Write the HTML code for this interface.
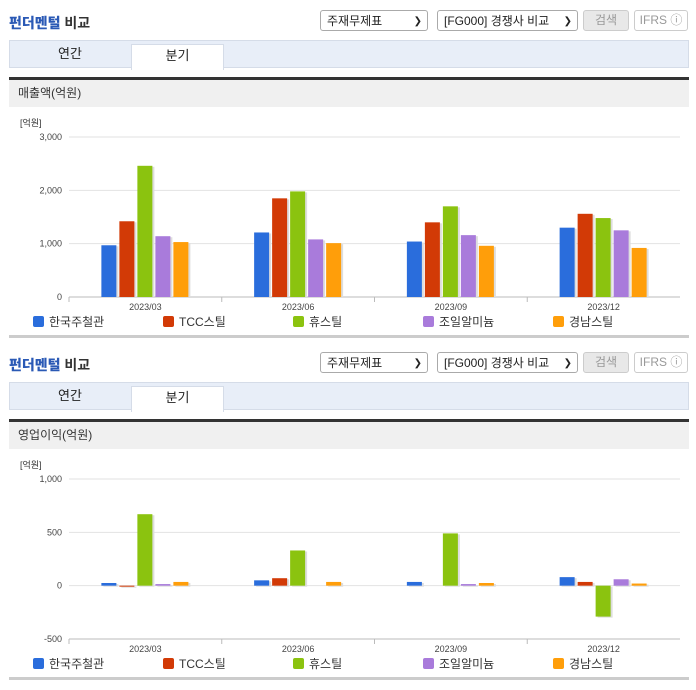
<!DOCTYPE html>
<html><head><meta charset="utf-8">
<style>
body{margin:0;width:696px;height:684px;background:#fff;font-family:"Liberation Sans","Noto Sans CJK KR",sans-serif;position:relative;overflow:hidden}
.abs{position:absolute}
.title{font-size:14px;font-weight:bold;color:#333}
.title b{color:#2a59b5}
.sel{border:1px solid #aaa;border-radius:3px;height:21px;font-size:12px;line-height:21px;padding-left:6px;box-sizing:border-box;color:#222;background:#fff}
.sel i{position:absolute;right:5px;top:0;font-style:normal;font-size:10px}
.btn{border:1px solid #ccc;border-radius:3px;height:21px;box-sizing:border-box;font-size:12px;line-height:19px;text-align:center;color:#999}
.tabs{left:9px;width:680px;height:28px;background:#e8eef8;border:1px solid #d5dce8;box-sizing:border-box}
.tab{font-size:13px;line-height:26px;text-align:center;color:#222}
.hdr{left:9px;width:680px;height:30px;background:#f0f0f0;border-top:3px solid #333;box-sizing:border-box;font-size:12px;line-height:27px;padding-left:9px;color:#333}
.bot{left:9px;width:680px;height:3px;background:#ccc}
svg text{font-family:"Liberation Sans","Noto Sans CJK KR",sans-serif}
</style></head><body>
<div id="root"></div>
<script>
const categories=["2023/03","2023/06","2023/09","2023/12"];
const seriesNames=["한국주철관","TCC스틸","휴스틸","조일알미늄","경남스틸"];
const colors=["#2a6ddc","#d23a06","#8bc30f","#a97bdb","#ff9e0a"];
const salesValues=[[970,1210,1040,1300],[1420,1850,1400,1560],[2460,1980,1700,1480],[1140,1080,1160,1250],[1030,1010,960,920]];
const salesTicks=[0,1000,2000,3000];
const opValues=[[25,50,35,80],[-8,70,0,35],[670,330,490,-290],[15,0,15,60],[35,35,25,20]];
const opTicks=[-500,0,500,1000];

const root=document.getElementById('root');
function block(off,label,vals,ticks,topY,botY){
  let h='';
  h+=`<div class="abs title" style="left:9px;top:${off+13}px"><b>펀더멘털</b> 비교</div>`;
  h+=`<div class="abs sel" style="left:320px;top:${off+10}px;width:108px">주재무제표<i>❯</i></div>`;
  h+=`<div class="abs sel" style="left:437px;top:${off+10}px;width:141px">[FG000] 경쟁사 비교<i>❯</i></div>`;
  h+=`<div class="abs btn" style="left:583px;top:${off+10}px;width:46px;background:#e8e8e8">검색</div>`;
  h+=`<div class="abs btn" style="left:634px;top:${off+10}px;width:54px">IFRS ⓘ</div>`;
  h+=`<div class="abs tabs" style="top:${off+40}px"></div>`;
  h+=`<div class="abs tab" style="left:10px;top:${off+41}px;width:120px">연간</div>`;
  h+=`<div class="abs tab" style="left:131px;top:${off+44}px;width:91px;height:25px;background:#fff;border:1px solid #d5dce8;border-bottom:none;line-height:22px">분기</div>`;
  h+=`<div class="abs hdr" style="top:${off+77}px">${label}</div>`;
  h+=`<div class="abs bot" style="top:${off+335}px"></div>`;
  const div=document.createElement('div');div.innerHTML=h;root.appendChild(div);
  const NS='http://www.w3.org/2000/svg';
  const svg=document.createElementNS(NS,'svg');
  svg.setAttribute('width',696);svg.setAttribute('height',240);
  svg.style.position='absolute';svg.style.left='0';svg.style.top=(off+108)+'px';
  
  
  root.appendChild(svg);
  const x0=69,x1=680,tmin=ticks[0],tmax=ticks[ticks.length-1];
  const y=v=>topY+(tmax-v)/(tmax-tmin)*(botY-topY);
  const cw=(x1-x0)/categories.length;
  function el(tag,attrs,txt){const e=document.createElementNS(NS,tag);for(const k in attrs)e.setAttribute(k,attrs[k]);if(txt!==undefined)e.textContent=txt;svg.appendChild(e);return e;}
  const u=el('text',{x:20,y:18,'font-size':9,fill:'#333'},'[억원]');
  
  
  ticks.forEach(t=>{
    const g=el('line',{x1:x0,x2:x1,y1:y(t),y2:y(t),stroke:'#e2e2e2'});
    
    
    const tl=el('text',{x:62,y:y(t)+3,'font-size':9,fill:'#444','text-anchor':'end'},t.toLocaleString('en-US'));
    
    
  });
  const axY=y(tmin);
  const ax=el('line',{x1:x0,x2:x1,y1:axY,y2:axY,stroke:'#bbb'});
  
  
  categories.forEach((c,i)=>{
    const cx=x0+cw*(i+0.5);
    const tk=el('line',{x1:x0+cw*i,x2:x0+cw*i,y1:axY,y2:axY+5,stroke:'#bbb'});
    
    
    const lb=el('text',{x:cx,y:axY+13,'font-size':9,fill:'#444','text-anchor':'middle'},c);
    
    
    vals.forEach((s,j)=>{
      const v=s[i];if(v===0)return;
      const bx=cx-44+j*18,bw=15;
      const ya=y(Math.max(v,0)),yb=y(Math.min(v,0));
      const sh=el('rect',{x:bx+2,y:ya+1,width:bw,height:Math.max(yb-ya,1),fill:'#ddd'});
      
      
      const r=el('rect',{x:bx,y:ya,width:bw,height:Math.max(yb-ya,1),fill:colors[j]});
      
      
    });
  });
  seriesNames.forEach((n,j)=>{
    const lx=33+j*130;
    const sq=el('rect',{x:lx,y:axY+19,width:11,height:11,rx:2,fill:colors[j]});
    
    
    const t=el('text',{x:lx+16,y:axY+29,'font-size':12,fill:'#333'},n);
    
    
  });
}
block(0,'매출액(억원)',salesValues,salesTicks,29,189);
block(342,'영업이익(억원)',opValues,opTicks,29,189);
</script>
</body></html>
